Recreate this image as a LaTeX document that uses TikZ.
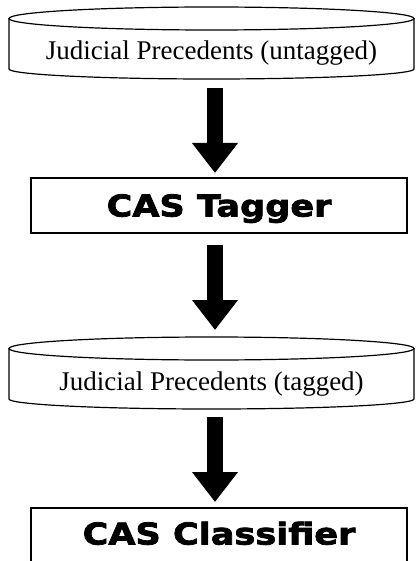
\documentclass[tikz,border=0pt]{standalone}
\usepackage{fontspec}
\setmainfont{Liberation Serif}
\newfontfamily\heavyfont{DejaVu Sans}[BoldFeatures={FakeBold=2.5,FakeStretch=1.17}]
\usetikzlibrary{arrows.meta}

\tikzset{
  cylbody/.style={minimum width=405pt, minimum height=72pt, inner sep=0pt, outer sep=0pt,
    font=\fontsize{27}{30}\selectfont, text height=34pt, text depth=0pt},
  cylline/.style={line width=1.2pt, draw=black},
  stagebox/.style={draw=black, line width=2.6pt, minimum width=376pt, minimum height=55pt,
    inner sep=0pt, outer sep=0pt, font=\heavyfont\bfseries\fontsize{30}{32}\selectfont,
    text height=22pt, text depth=0pt},
  blockarrow/.style={line width=16pt, draw=black,
    -{Triangle[length=30pt, width=44pt]}}
}

% outline of a storage cylinder drawn around a named node
\newcommand{\cylout}[1]{%
  \draw[cylline] ([yshift=-11.5pt]#1.north) ellipse [x radius=202.5pt, y radius=11.5pt];
  \draw[cylline] ([yshift=-11.5pt]#1.north west) -- ([yshift=10pt]#1.south west)
    arc [start angle=180, end angle=360, x radius=202.5pt, y radius=10pt]
    -- ([yshift=-11.5pt]#1.north east);
}

\begin{document}
\begin{tikzpicture}[x=1pt, y=-1pt]
  \useasboundingbox (0,0) rectangle (417,561);
  \clip (0,0) rectangle (417,561);
  \fill[white] (0,0) rectangle (417,561);

  \coordinate (ax) at (215,0);

  \node[cylbody] (c1) at (211.5,43) {Judicial Precedents (untagged)};
  \cylout{c1}

  \node[stagebox] (tag) at (219,205.5) {CAS Tagger};

  \node[cylbody] (c2) at (211.5,373) {Judicial Precedents (tagged)};
  \cylout{c2}

  \node[stagebox, minimum height=56pt, text depth=5pt] (cls) at (219,536) {CAS Classifier};

  \draw[blockarrow, shorten <=9pt, shorten >=5pt] (c1.south -| ax) -- (tag.north -| ax);
  \draw[blockarrow, shorten <=12pt, shorten >=7pt] (tag.south -| ax) -- (c2.north -| ax);
  \draw[blockarrow, shorten <=8pt, shorten >=6pt] (c2.south -| ax) -- (cls.north -| ax);
\end{tikzpicture}
\end{document}
